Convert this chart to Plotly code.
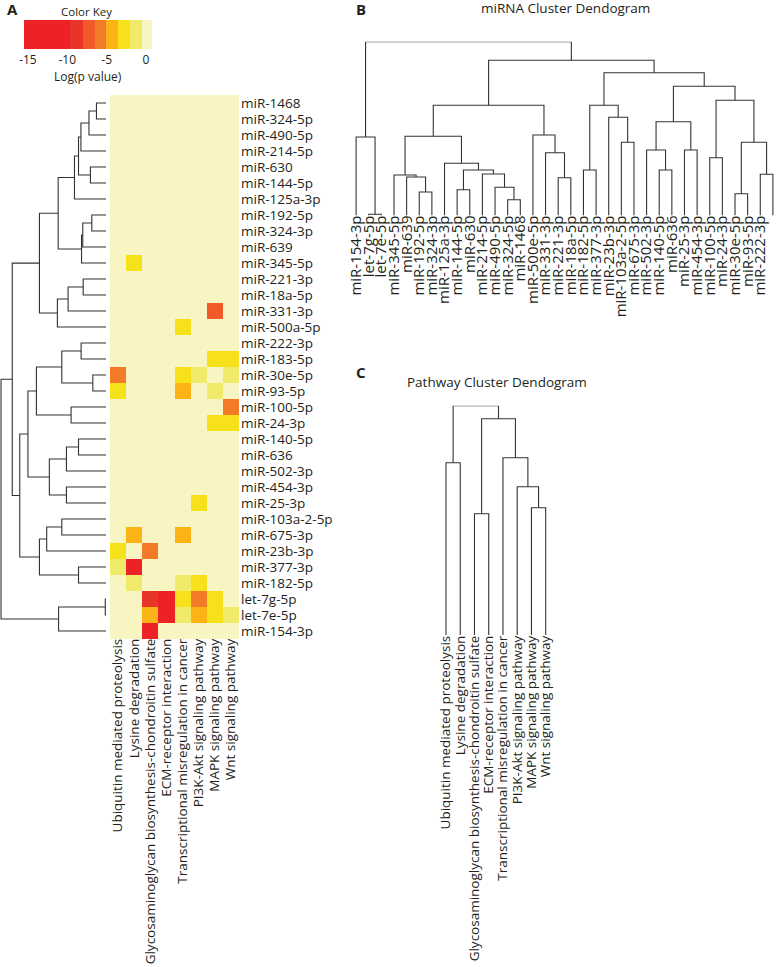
import plotly.graph_objects as go

W, H = 781, 967

# ---------------- data ----------------
mirnas = ["miR-1468", "miR-324-5p", "miR-490-5p", "miR-214-5p", "miR-630", "miR-144-5p",
          "miR-125a-3p", "miR-192-5p", "miR-324-3p", "miR-639", "miR-345-5p", "miR-221-3p",
          "miR-18a-5p", "miR-331-3p", "miR-500a-5p", "miR-222-3p", "miR-183-5p", "miR-30e-5p",
          "miR-93-5p", "miR-100-5p", "miR-24-3p", "miR-140-5p", "miR-636", "miR-502-3p",
          "miR-454-3p", "miR-25-3p", "miR-103a-2-5p", "miR-675-3p", "miR-23b-3p", "miR-377-3p",
          "miR-182-5p", "let-7g-5p", "let-7e-5p", "miR-154-3p"]

pathways = ["Ubiquitin mediated proteolysis", "Lysine degradation",
            "Glycosaminoglycan biosynthesis-chondroitin sulfate", "ECM-receptor interaction",
            "Transcriptional misregulation in cancer", "PI3K-Akt signaling pathway",
            "MAPK signaling pathway", "Wnt signaling pathway"]

# log(p value) per miRNA (rows) and pathway (columns)
log_p = [
    [0, 0, 0, 0, 0, 0, 0, 0],            # miR-1468
    [0, 0, 0, 0, 0, 0, 0, 0],            # miR-324-5p
    [0, 0, 0, 0, 0, 0, 0, 0],            # miR-490-5p
    [0, 0, 0, 0, 0, 0, 0, 0],            # miR-214-5p
    [0, 0, 0, 0, 0, 0, 0, 0],            # miR-630
    [0, 0, 0, 0, 0, 0, 0, 0],            # miR-144-5p
    [0, 0, 0, 0, 0, 0, 0, 0],            # miR-125a-3p
    [0, 0, 0, 0, 0, 0, 0, 0],            # miR-192-5p
    [0, 0, 0, 0, 0, 0, 0, 0],            # miR-324-3p
    [0, 0, 0, 0, 0, 0, 0, 0],            # miR-639
    [0, -2.6, 0, 0, 0, 0, 0, 0],         # miR-345-5p
    [0, 0, 0, 0, 0, 0, 0, 0],            # miR-221-3p
    [0, 0, 0, 0, 0, 0, 0, 0],            # miR-18a-5p
    [0, 0, 0, 0, 0, 0, -7.2, 0],         # miR-331-3p
    [0, 0, 0, 0, -2.8, 0, 0, 0],         # miR-500a-5p
    [0, 0, 0, 0, 0, 0, 0, 0],            # miR-222-3p
    [0, 0, 0, 0, 0, 0, -3.4, -2.6],      # miR-183-5p
    [-6.0, 0, 0, 0, -2.8, -1.5, 0, -1.6],  # miR-30e-5p
    [-2.6, 0, 0, 0, -3.7, 0, -1.5, 0],   # miR-93-5p
    [0, 0, 0, 0, 0, 0, 0, -5.4],         # miR-100-5p
    [0, 0, 0, 0, 0, 0, -2.8, -2.8],      # miR-24-3p
    [0, 0, 0, 0, 0, 0, 0, 0],            # miR-140-5p
    [0, 0, 0, 0, 0, 0, 0, 0],            # miR-636
    [0, 0, 0, 0, 0, 0, 0, 0],            # miR-502-3p
    [0, 0, 0, 0, 0, 0, 0, 0],            # miR-454-3p
    [0, 0, 0, 0, 0, -2.8, 0, 0],         # miR-25-3p
    [0, 0, 0, 0, 0, 0, 0, 0],            # miR-103a-2-5p
    [0, -4.4, 0, 0, -4.4, 0, 0, 0],      # miR-675-3p
    [-3.3, 0, -5.5, 0, 0, 0, 0, 0],      # miR-23b-3p
    [-1.6, -12.0, 0, 0, 0, 0, 0, 0],     # miR-377-3p
    [0, -1.6, 0, 0, -1.8, -3.3, 0, 0],   # miR-182-5p
    [0, 0, -8.8, -13.0, -2.8, -5.8, -2.8, 0],   # let-7g-5p
    [0, 0, -4.3, -13.0, -1.8, -4.3, -2.8, -1.6],  # let-7e-5p
    [0, 0, -12.0, 0, 0, 0, 0, 0],        # miR-154-3p
]

key_breaks = [-15.5, -9.65, -8.0, -6.5, -5.1, -3.55, -2.05, -0.5, 0.76]
key_colors = ["#EC2227", "#E9342A", "#F05A28", "#F37A27", "#FCB316", "#F6E11A", "#EFEA6A", "#F8F5C3"]
key_ticks = [-15, -10, -5, 0]
key_ticktext = ["-15", "-10", "-5", "0"]

# miRNA hierarchical clustering: (node, child a, child b, merge height)
mirna_merges = [
    ("m1", "let-7g-5p", "let-7e-5p", 1.2),
    ("m2", "miR-154-3p", "m1", 78.5),
    ("m3", "miR-192-5p", "miR-324-3p", 23.5),
    ("m4", "miR-639", "m3", 38.5),
    ("m5", "miR-345-5p", "m4", 40.5),
    ("m6", "miR-324-5p", "miR-1468", 15.8),
    ("m7", "miR-490-5p", "m6", 28.2),
    ("m8", "miR-214-5p", "m7", 41.5),
    ("m9", "miR-144-5p", "miR-630", 25.8),
    ("m10", "m9", "m8", 45.5),
    ("m11", "miR-125a-3p", "m10", 52.2),
    ("m12", "m5", "m11", 79.2),
    ("m13", "miR-221-3p", "miR-18a-5p", 37.8),
    ("m14", "miR-331-3p", "m13", 62.8),
    ("m15", "miR-500a-5p", "m14", 80.5),
    ("m16", "m12", "m15", 110.2),
    ("m17", "miR-182-5p", "miR-377-3p", 45.5),
    ("m18", "miR-103a-2-5p", "miR-675-3p", 73.2),
    ("m19", "miR-23b-3p", "m18", 98.2),
    ("m20", "m17", "m19", 110.2),
    ("m21", "miR-140-5p", "miR-636", 45.5),
    ("m22", "miR-502-3p", "m21", 65.5),
    ("m23", "miR-25-3p", "miR-454-3p", 65.5),
    ("m24", "m22", "m23", 93.8),
    ("m25", "miR-100-5p", "miR-24-3p", 57.8),
    ("m26", "miR-30e-5p", "miR-93-5p", 21.8),
    ("m27", "miR-222-3p", "miR-183-5p", 41.2),
    ("m28", "m26", "m27", 73.2),
    ("m29", "m25", "m28", 115.2),
    ("m30", "m24", "m29", 129.2),
    ("m31", "m20", "m30", 142.8),
    ("m32", "m16", "m31", 155.2),
    ("m33", "m2", "m32", 173.8),
]

mirna_dendro_order = ["miR-154-3p", "let-7g-5p", "let-7e-5p", "miR-345-5p", "miR-639", "miR-192-5p",
                      "miR-324-3p", "miR-125a-3p", "miR-144-5p", "miR-630", "miR-214-5p", "miR-490-5p",
                      "miR-324-5p", "miR-1468", "miR-500a-5p", "miR-331-3p", "miR-221-3p", "miR-18a-5p",
                      "miR-182-5p", "miR-377-3p", "miR-23b-3p", "miR-103a-2-5p", "miR-675-3p",
                      "miR-502-3p", "miR-140-5p", "miR-636", "miR-25-3p", "miR-454-3p", "miR-100-5p",
                      "miR-24-3p", "miR-30e-5p", "miR-93-5p", "miR-222-3p", "miR-183-5p"]
mirna_dendro_labels = ["miR-154-3p", "let-7g-5p", "let-7e-5p", "miR-345-5p", "miR-639", "miR-192-5p",
                       "miR-324-3p", "miR-125a-3p", "miR-144-5p", "miR-630", "miR-214-5p", "miR-490-5p",
                       "miR-324-5p", "miR-1468", "miR-500e-5p", "miR-331-3p", "miR-221-3p", "miR-18a-5p",
                       "miR-182-5p", "miR-377-3p", "miR-23b-3p", "miR-103a-2-5p", "miR-675-3p",
                       "miR-502-3p", "miR-140-5p", "miR-636", "miR-25-3p", "miR-454-3p", "miR-100-5p",
                       "miR-24-3p", "miR-30e-5p", "miR-93-5p", "miR-222-3p", "miR-183-5p"]

# pathway hierarchical clustering
pathway_merges = [
    ("p1", "Ubiquitin mediated proteolysis", "Lysine degradation", 172.3),
    ("p2", "Glycosaminoglycan biosynthesis-chondroitin sulfate", "ECM-receptor interaction", 121.3),
    ("p3", "MAPK signaling pathway", "Wnt signaling pathway", 127.3),
    ("p4", "PI3K-Akt signaling pathway", "p3", 148.3),
    ("p5", "Transcriptional misregulation in cancer", "p4", 177.3),
    ("p6", "p2", "p5", 216.3),
    ("p7", "p1", "p6", 229.3),
]

# ---------------- helpers ----------------
FONT = "Open Sans"
TXT = "#231F20"
LINE = "#333333"


def px_x(px):
    return px / W


def px_y(py):
    return 1 - py / H


def dendro_segments(merges, order):
    pos = {name: i for i, name in enumerate(order)}
    hgt = {}
    p_out, h_out = [], []
    for node, a, b, h in merges:
        pa, pb = pos[a], pos[b]
        ha, hb = hgt.get(a, 0.0), hgt.get(b, 0.0)
        p_out += [pa, pa, pb, pb, None]
        h_out += [ha, h, h, hb, None]
        pos[node] = (pa + pb) / 2
        hgt[node] = h
    return p_out, h_out


zmin, zmax = key_breaks[0], key_breaks[-1]
colorscale = []
for i, c in enumerate(key_colors):
    a = (key_breaks[i] - zmin) / (zmax - zmin)
    b = (key_breaks[i + 1] - zmin) / (zmax - zmin)
    colorscale += [[a, c], [b, c]]

fig = go.Figure()

# ---------------- heatmap (panel A) ----------------
fig.add_trace(go.Heatmap(
    z=log_p, x=pathways, y=mirnas, zmin=zmin, zmax=zmax, colorscale=colorscale,
    xaxis="x", yaxis="y", hoverongaps=False,
    colorbar=dict(
        orientation="h", x=px_x(88), xanchor="center", y=px_y(20), yanchor="top",
        len=128 / W, lenmode="fraction", thickness=29, thicknessmode="pixels",
        outlinewidth=0, xpad=0, ypad=0, tickmode="array", tickvals=key_ticks,
        ticktext=key_ticktext, ticks="",
        tickfont=dict(family=FONT, size=12, color=TXT),
    ),
))

# row dendrogram (panel A)
pa, ha = dendro_segments(mirna_merges, mirnas)
fig.add_trace(go.Scatter(x=ha, y=pa, mode="lines", line=dict(color=LINE, width=1.1),
                         xaxis="x2", yaxis="y2", hoverinfo="skip", showlegend=False))

# miRNA dendrogram (panel B)
pb, hb = dendro_segments(mirna_merges, mirna_dendro_order)
fig.add_trace(go.Scatter(x=pb, y=hb, mode="lines", line=dict(color=LINE, width=1.1),
                         xaxis="x3", yaxis="y3", hoverinfo="skip", showlegend=False))

# pathway dendrogram (panel C)
pc, hc = dendro_segments(pathway_merges, pathways)
fig.add_trace(go.Scatter(x=pc, y=hc, mode="lines", line=dict(color=LINE, width=1.1),
                         xaxis="x4", yaxis="y4", hoverinfo="skip", showlegend=False))

hidden = dict(showgrid=False, zeroline=False, showticklabels=False, showline=False, ticks="")
tickfont = dict(family=FONT, size=13.5, color=TXT)
tickfont_b = dict(family=FONT, size=15, color=TXT)

heat_top, heat_bot = 95, 639
b_left, b_step = 356.1, 12.63
c_left, c_step = 446.0, 14.24

fig.update_layout(
    width=W, height=H, margin=dict(l=0, r=0, t=0, b=0, autoexpand=False),
    paper_bgcolor="white", plot_bgcolor="white", showlegend=False,
    font=dict(family=FONT, color=TXT),
    xaxis=dict(domain=[px_x(110), px_x(239)], showgrid=False, zeroline=False, ticks="",
               tickangle=-90, tickfont=tickfont, anchor="y", side="bottom",
               tickmode="array", tickvals=pathways, automargin=False, ticklabelstandoff=-4),
    yaxis=dict(domain=[px_y(heat_bot), px_y(heat_top)], showgrid=False, zeroline=False,
               ticks="", autorange="reversed", side="right", anchor="x", tickfont=tickfont,
               tickmode="array", tickvals=mirnas, automargin=False, ticklabelstandoff=1),
    xaxis2=dict(domain=[0, px_x(106)], range=[175.5, 0], anchor="y2", **hidden),
    yaxis2=dict(domain=[px_y(heat_bot), px_y(heat_top)], range=[len(mirnas) - 0.5, -0.5],
                anchor="x2", **hidden),
    xaxis3=dict(domain=[px_x(b_left - b_step / 2), px_x(b_left + (len(mirnas) - 0.5) * b_step)],
                range=[-0.5, len(mirnas) - 0.5], anchor="y3", showgrid=False, zeroline=False,
                ticks="", tickmode="array", tickvals=list(range(len(mirna_dendro_labels))),
                ticktext=mirna_dendro_labels, tickangle=-90, tickfont=tickfont_b,
                automargin=False, ticklabelstandoff=-4),
    yaxis3=dict(domain=[px_y(215.5), px_y(41.7)], range=[0, 173.8], anchor="x3", **hidden),
    xaxis4=dict(domain=[px_x(c_left - c_step / 2), px_x(c_left + (len(pathways) - 0.5) * c_step)],
                range=[-0.5, len(pathways) - 0.5], anchor="y4", showgrid=False, zeroline=False,
                ticks="", tickmode="array", tickvals=list(range(len(pathways))),
                ticktext=pathways, tickangle=-90, tickfont=tickfont, automargin=False,
                ticklabelstandoff=-3),
    yaxis4=dict(domain=[px_y(635), px_y(405.7)], range=[0, 229.3], anchor="x4", **hidden),
)

annots = [
    ("<b>A</b>", 12, 9, 15),
    ("<b>B</b>", 361, 9, 15),
    ("<b>C</b>", 361, 372, 15),
    ("Color Key", 86, 11, 11.5),
    ("Log(p value)", 88, 76, 12),
    ("miRNA Cluster Dendogram", 565.5, 8, 13.5),
    ("Pathway Cluster Dendogram", 496.5, 382, 13.5),
]
for text, x, y, s in annots:
    fig.add_annotation(text=text, x=px_x(x), y=px_y(y), xref="paper", yref="paper",
                       xanchor="center", yanchor="middle", showarrow=False,
                       font=dict(family=FONT, size=s, color=TXT))

fig.write_html("out.html", config={"displayModeBar": False},
               post_script="document.body.style.margin='0';")
